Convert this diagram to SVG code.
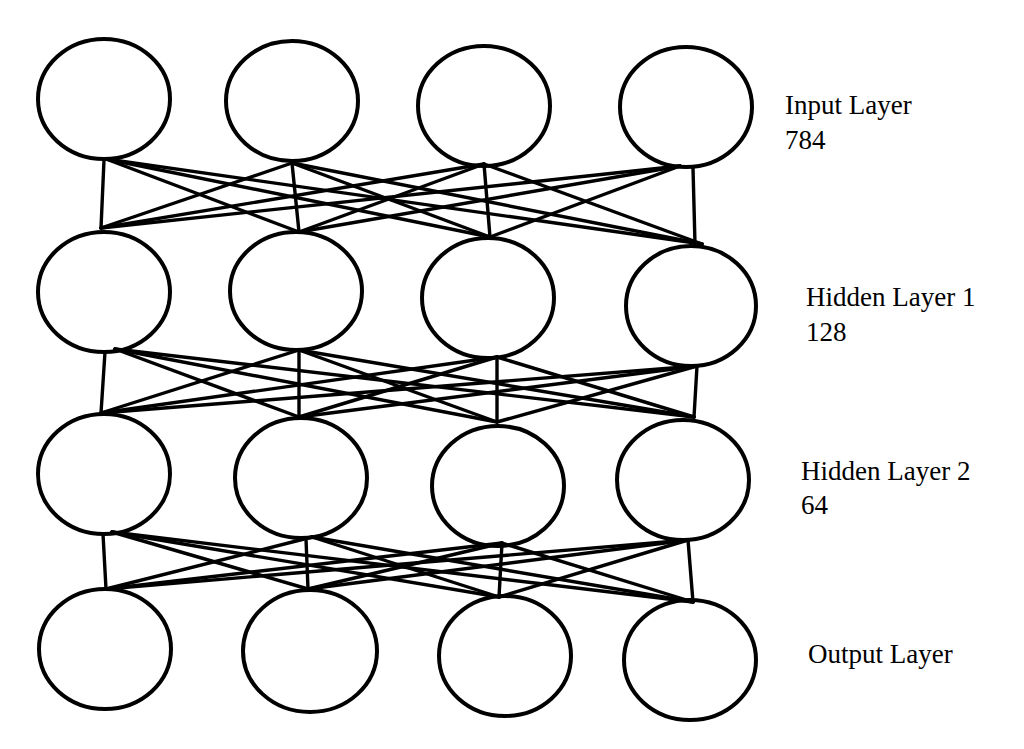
<svg xmlns="http://www.w3.org/2000/svg" width="1024" height="749" viewBox="0 0 1024 749">
<style>
.node ellipse{fill:none;stroke:#000;stroke-width:4}
#connectors line{stroke:#000;stroke-width:3.4;stroke-linecap:round}
text{font-family:"Liberation Serif","Times New Roman",serif;font-size:27px;fill:#000}
</style>
<rect width="1024" height="749" fill="#fff"/>
<g id="connectors">
<line x1="104" y1="160" x2="101" y2="228"/>
<line x1="106" y1="159" x2="299" y2="232"/>
<line x1="106" y1="159" x2="490" y2="237"/>
<line x1="106" y1="159" x2="702" y2="244"/>
<line x1="292" y1="163" x2="101" y2="228"/>
<line x1="292" y1="163" x2="299" y2="232"/>
<line x1="292" y1="163" x2="490" y2="237"/>
<line x1="292" y1="163" x2="702" y2="244"/>
<line x1="484" y1="164" x2="101" y2="228"/>
<line x1="484" y1="164" x2="299" y2="232"/>
<line x1="484" y1="164" x2="490" y2="237"/>
<line x1="484" y1="164" x2="702" y2="244"/>
<line x1="680" y1="166" x2="101" y2="228"/>
<line x1="680" y1="166" x2="299" y2="232"/>
<line x1="680" y1="166" x2="490" y2="237"/>
<line x1="693" y1="168" x2="695" y2="244"/>
<line x1="105" y1="352" x2="101" y2="413"/>
<line x1="115" y1="349" x2="299" y2="417"/>
<line x1="115" y1="349" x2="497" y2="422"/>
<line x1="115" y1="349" x2="694" y2="417"/>
<line x1="299" y1="350" x2="101" y2="413"/>
<line x1="299" y1="350" x2="299" y2="417"/>
<line x1="299" y1="350" x2="497" y2="422"/>
<line x1="299" y1="350" x2="694" y2="417"/>
<line x1="497" y1="357" x2="101" y2="413"/>
<line x1="497" y1="357" x2="299" y2="417"/>
<line x1="497" y1="357" x2="497" y2="422"/>
<line x1="497" y1="357" x2="694" y2="417"/>
<line x1="697" y1="366" x2="101" y2="413"/>
<line x1="697" y1="366" x2="299" y2="417"/>
<line x1="697" y1="366" x2="497" y2="422"/>
<line x1="697" y1="366" x2="694" y2="417"/>
<line x1="103" y1="534" x2="106" y2="589"/>
<line x1="112" y1="532" x2="308" y2="589"/>
<line x1="112" y1="532" x2="499" y2="597"/>
<line x1="112" y1="532" x2="693" y2="602"/>
<line x1="312" y1="537" x2="106" y2="589"/>
<line x1="306" y1="539" x2="308" y2="589"/>
<line x1="312" y1="537" x2="499" y2="597"/>
<line x1="312" y1="537" x2="693" y2="602"/>
<line x1="502" y1="543" x2="106" y2="589"/>
<line x1="502" y1="543" x2="308" y2="589"/>
<line x1="502" y1="543" x2="499" y2="597"/>
<line x1="502" y1="543" x2="693" y2="602"/>
<line x1="688" y1="540" x2="106" y2="589"/>
<line x1="688" y1="540" x2="308" y2="589"/>
<line x1="688" y1="540" x2="499" y2="597"/>
<line x1="688" y1="540" x2="693" y2="602"/>
</g>
<g id="input-1" class="node"><ellipse cx="104" cy="99" rx="66" ry="60"/></g>
<g id="input-2" class="node"><ellipse cx="292" cy="101" rx="66" ry="60"/></g>
<g id="input-3" class="node"><ellipse cx="484" cy="106" rx="66" ry="60"/></g>
<g id="input-4" class="node"><ellipse cx="686" cy="107" rx="66" ry="60"/></g>
<g id="hidden1-1" class="node"><ellipse cx="104" cy="292" rx="66" ry="60"/></g>
<g id="hidden1-2" class="node"><ellipse cx="296" cy="291" rx="66" ry="59"/></g>
<g id="hidden1-3" class="node"><ellipse cx="488" cy="298" rx="66" ry="60"/></g>
<g id="hidden1-4" class="node"><ellipse cx="691" cy="306" rx="65" ry="60"/></g>
<g id="hidden2-1" class="node"><ellipse cx="104" cy="474" rx="66" ry="60"/></g>
<g id="hidden2-2" class="node"><ellipse cx="301" cy="478" rx="66" ry="60"/></g>
<g id="hidden2-3" class="node"><ellipse cx="498" cy="486" rx="66" ry="60"/></g>
<g id="hidden2-4" class="node"><ellipse cx="683" cy="480" rx="66" ry="60"/></g>
<g id="output-1" class="node"><ellipse cx="105" cy="649" rx="66" ry="60"/></g>
<g id="output-2" class="node"><ellipse cx="310" cy="651" rx="67" ry="61"/></g>
<g id="output-3" class="node"><ellipse cx="505" cy="656" rx="66" ry="60"/></g>
<g id="output-4" class="node"><ellipse cx="690" cy="660" rx="66" ry="60"/></g>
<g id="labels">
<text x="785" y="114">Input Layer</text>
<text x="785" y="149">784</text>
<text x="806" y="306">Hidden Layer 1</text>
<text x="806" y="341">128</text>
<text x="801" y="480">Hidden Layer 2</text>
<text x="801" y="514">64</text>
<text x="808" y="663">Output Layer</text>
</g>
</svg>
